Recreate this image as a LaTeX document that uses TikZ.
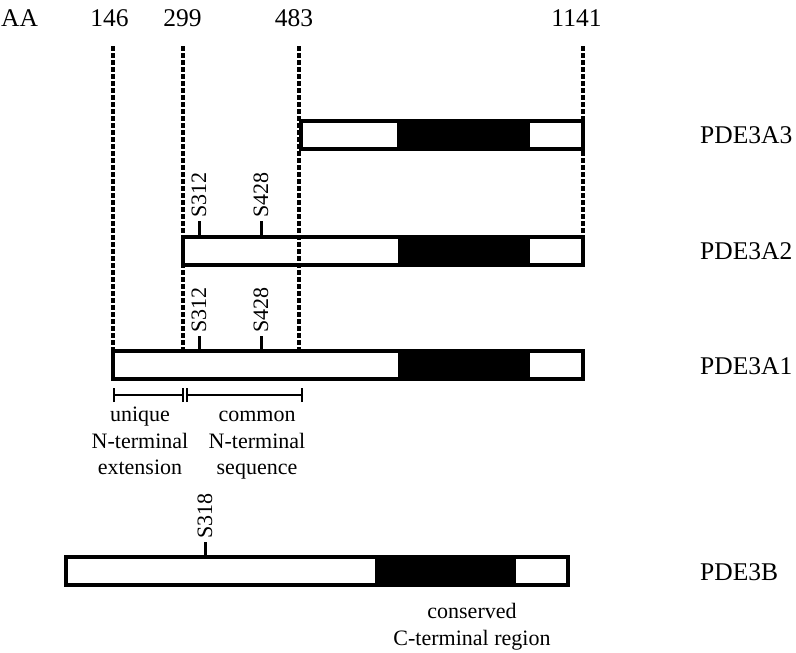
\documentclass[tikz,border=0pt]{standalone}
\usepackage{fontspec}
\setmainfont{Liberation Serif}
\begin{document}
\begin{tikzpicture}[x=1pt,y=-1pt,
  frame/.style={draw=black,line width=3.2pt},
  core/.style={fill=black},
  guide/.style={line width=3.5pt,dash pattern=on 4.5pt off 2.5pt},
  tickln/.style={line width=3pt},
  brk/.style={line width=2pt},
  big/.style={font=\fontsize{25.5}{30}\selectfont,inner sep=0pt,anchor=base},
  small/.style={font=\fontsize{22}{26}\selectfont,inner sep=0pt,anchor=base},
  site/.style={font=\fontsize{22}{26}\selectfont,inner sep=0pt,rotate=90,anchor=west}]
\useasboundingbox (0,0) rectangle (796,653);

% header
\node[big,anchor=base west] (aa) at (1,26) {AA};
\node[big] (n146) at (109.5,26) {146};
\node[big] (n299) at (182.5,26) {299};
\node[big] (n483) at (294,26) {483};
\node[big] (n1141) at (576.5,26) {1141};

% coordinates
\coordinate (t146) at (113,46);  \coordinate (b146) at (113,351);
\coordinate (t299) at (183,46);  \coordinate (b299) at (183,351);
\coordinate (t483) at (299,46);  \coordinate (b483) at (299,351);
\coordinate (t1141) at (583,46); \coordinate (b1141) at (583,237);

% PDE3A3
\fill[core] (397,121) rectangle (530,149);
\draw[frame] (301,121) rectangle (583,149);
% PDE3A2
\fill[core] (398,237) rectangle (530,265);
\draw[frame] (183,237) rectangle (583,265);
% PDE3A1
\fill[core] (398,351) rectangle (530,379);
\draw[frame] (113,351) rectangle (583,379);
% PDE3B
\fill[core] (375,557) rectangle (516,585);
\draw[frame] (66,557) rectangle (568,585);

% dashed guides
\draw[guide] (t146) -- (b146);
\draw[guide] (t299) -- (b299);
\draw[guide] (t483) -- (b483);
\draw[guide] (t1141) -- (b1141);

% sites PDE3A2
\coordinate (a2s1) at (199,221); \coordinate (a2s1b) at (199,237);
\coordinate (a2s2) at (261,221); \coordinate (a2s2b) at (261,237);
\draw[tickln] (a2s1) -- (a2s1b);
\draw[tickln] (a2s2) -- (a2s2b);
\node[site] (l2a) at (199,218) {S312};
\node[site] (l2b) at (261,218) {S428};
% sites PDE3A1
\coordinate (a1s1) at (199,336); \coordinate (a1s1b) at (199,351);
\coordinate (a1s2) at (261,336); \coordinate (a1s2b) at (261,351);
\draw[tickln] (a1s1) -- (a1s1b);
\draw[tickln] (a1s2) -- (a1s2b);
\node[site] (l1a) at (199,333) {S312};
\node[site] (l1b) at (261,333) {S428};
% site PDE3B
\coordinate (bs) at (205,542); \coordinate (bsb) at (205,557);
\draw[tickln] (bs) -- (bsb);
\node[site] (lb) at (205,539) {S318};

% brackets
\coordinate (k1) at (114,395); \coordinate (k2) at (183,395);
\coordinate (k3) at (187,395); \coordinate (k4) at (302,395);
\draw[brk] (k1) -- (k2);
\draw[brk] (k3) -- (k4);
\foreach \k in {k1,k2,k3,k4} \draw[brk] ([yshift=-7pt]\k) -- ([yshift=7pt]\k);

% region labels
\node[small] (u1) at (140,421) {unique};
\node[small] (u2) at (140,448) {N-terminal};
\node[small] (u3) at (140,474) {extension};
\node[small] (c1) at (257,421) {common};
\node[small] (c2) at (257,448) {N-terminal};
\node[small] (c3) at (257,474) {sequence};
\node[small] (r1) at (472,618) {conserved};
\node[small] (r2) at (472,645) {C-terminal region};

% isoform names
\node[big,anchor=base west] (pa3) at (700,143) {PDE3A3};
\node[big,anchor=base west] (pa2) at (700,259) {PDE3A2};
\node[big,anchor=base west] (pa1) at (700,374) {PDE3A1};
\node[big,anchor=base west] (pb) at (700,580) {PDE3B};
\end{tikzpicture}
\end{document}
